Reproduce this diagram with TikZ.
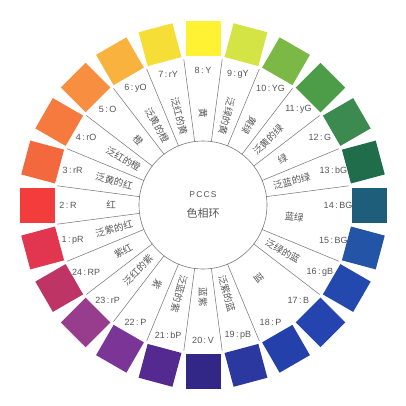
\documentclass[tikz,border=0pt]{standalone}
\usepackage{fontspec}
\setmainfont{Liberation Sans}
\newfontfamily\cjk{Noto Sans CJK SC}
\definecolor{h1}{HTML}{E23650}
\definecolor{h2}{HTML}{F33C3C}
\definecolor{h3}{HTML}{F4683E}
\definecolor{h4}{HTML}{F67A3E}
\definecolor{h5}{HTML}{F88E40}
\definecolor{h6}{HTML}{FAB23F}
\definecolor{h7}{HTML}{F6DE36}
\definecolor{h8}{HTML}{FFF232}
\definecolor{h9}{HTML}{D4E444}
\definecolor{h10}{HTML}{7CB846}
\definecolor{h11}{HTML}{4C9C48}
\definecolor{h12}{HTML}{3C8A50}
\definecolor{h13}{HTML}{1F6D4A}
\definecolor{h14}{HTML}{1E5E7A}
\definecolor{h15}{HTML}{2354A6}
\definecolor{h16}{HTML}{2348AE}
\definecolor{h17}{HTML}{2544B0}
\definecolor{h18}{HTML}{2440AA}
\definecolor{h19}{HTML}{2A38A0}
\definecolor{h20}{HTML}{322686}
\definecolor{h21}{HTML}{552A90}
\definecolor{h22}{HTML}{7B3597}
\definecolor{h23}{HTML}{983C8E}
\definecolor{h24}{HTML}{BE3465}
\definecolor{linec}{HTML}{7A7A7A}
\definecolor{textc}{HTML}{555555}
\tikzset{
  swatch/.style={minimum size=35pt, inner sep=0pt, outer sep=0pt},
  huelabel/.style={font=\fontsize{9}{10}\selectfont, text=textc, inner sep=0pt},
  cjklabel/.style={font=\cjk\fontsize{9.5}{11}\selectfont, text=textc, inner sep=0pt},
  divline/.style={draw=linec, line width=0.55pt}
}
\begin{document}
\begin{tikzpicture}[x=1pt,y=1pt]
\useasboundingbox (0,0) rectangle (406,405);
\coordinate (C) at (203,200);
\node[circle, draw=linec, line width=0.6pt, minimum size=128pt, inner sep=0pt] (inner) at (C) {};
\node[font=\fontsize{8.5}{10}\selectfont, text=textc] (pccs) at ([yshift=10pt]C) {P\kern1.2pt C\kern1.2pt C\kern1.2pt S};
\node[font=\cjk\fontsize{11}{12}\selectfont, text=textc] (title) at ([yshift=-8pt]C) {色相环};
% swatches and hue labels
\foreach \n/\lab in {1/1\,:\,pR, 2/2\,:\,R, 3/3\,:\,rR, 4/4\,:\,rO, 5/5\,:\,O, 6/6\,:\,yO,
  7/7\,:\,rY, 8/8\,:\,Y, 9/9\,:\,gY, 10/10\,:\,YG, 11/11\,:\,yG, 12/12\,:\,G,
  13/13\,:\,bG, 14/14\,:\,BG, 15/15\,:\,BG, 16/16\,:\,gB, 17/17\,:\,B, 18/18\,:\,P,
  19/19\,:\,pB, 20/20\,:\,V, 21/21\,:\,bP, 22/22\,:\,P, 23/23\,:\,rP, 24/24\,:\,RP}{
  \pgfmathsetmacro\ang{90+(8-\n)*15}
  \node[swatch, fill=h\n, rotate=\ang] (s\n) at ([shift={(\ang:166)}]C) {};
  \node[huelabel] (l\n) at ([shift={(\ang:135)}]C) {\lab};
}
% dividers
\foreach \k in {1,...,13,15,16,18,19,20,21,22,23,24}{
  \pgfmathsetmacro\b{82.5+(8-\k)*15}
  \coordinate (i\k) at ([shift={(\b:64)}]C);
  \coordinate (o\k) at ([shift={(\b:147)}]C);
  \draw[divline] (i\k) -- (o\k);
}
% chinese names
\foreach \id/\a/\r/\t in {c1/195/15/泛紫的红, c2/180/0/红, c3/165/-15/泛黄的红, c4/150/-30/泛红的橙,
  c5/135/-45/橙, c6/120/-60/泛黄的橙, c7/105/-75/泛红的黄, c8/90/-90/黄, c9/75/-105/泛绿的黄,
  c10/60/-120/黄绿, c11/45/45/泛黄的绿, c12/30/30/绿, c13/15/15/泛蓝的绿, c14/-7.5/-7.5/蓝绿,
  c16/-30/-30/泛绿的蓝, c17/-52.5/-52.5/蓝, c19/-75/-75/泛紫的蓝, c20/-90/-90/蓝紫,
  c21/-105/-105/泛蓝的紫, c22/-120/-120/紫, c23/225/45/泛红的紫, c24/210/30/紫红}{
  \node[cjklabel, rotate=\r] (\id) at ([shift={(\a:92)}]C) {\t};
}
\end{tikzpicture}
\end{document}
